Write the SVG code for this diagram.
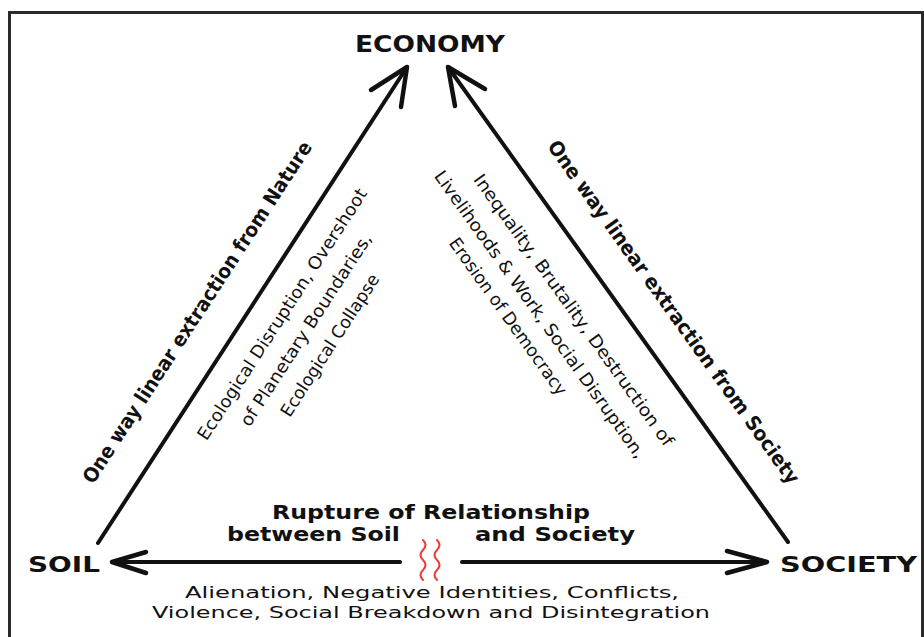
<svg xmlns="http://www.w3.org/2000/svg" width="924" height="637" viewBox="0 0 924 637">
  <style>
    .node { font-family: "DejaVu Sans", sans-serif; font-weight: bold; fill: #111; }
    .outer { font-family: "DejaVu Sans", sans-serif; font-weight: bold; font-size: 20px; fill: #111; }
    .inner { font-family: "DejaVu Sans", sans-serif; font-size: 17.5px; fill: #111; }
    .bold { font-family: "DejaVu Sans", sans-serif; font-weight: bold; font-size: 19px; fill: #111; }
    .plain { font-family: "DejaVu Sans", sans-serif; font-size: 16px; fill: #111; }
    .line { fill: none; stroke: #111; stroke-width: 4; stroke-linecap: round; stroke-linejoin: round; }
    .head { fill: none; stroke: #111; stroke-width: 4.5; stroke-linecap: round; stroke-linejoin: round; }
    .squig { fill: none; stroke: #ef3b3b; stroke-width: 2; stroke-linecap: round; }
  </style>
  <rect width="924" height="637" fill="#ffffff"/>
  <path d="M9.5 660 V12.5 H922.5 V660" fill="none" stroke="#2a2a2a" stroke-width="3"/>

  <g id="connectors">
    <g id="soil-to-economy">
      <path class="line" d="M98 543 L407 67"/>
      <path class="head" d="M371 90 L407 67 L401 107"/>
    </g>
    <g id="society-to-economy">
      <path class="line" d="M788 542 L448 67"/>
      <path class="head" d="M485 89 L448 67 L455 106"/>
    </g>
    <g id="rupture-to-soil">
      <path class="line" d="M400 562 L114 562"/>
      <path class="head" d="M146 552 L112 562 L146 573"/>
    </g>
    <g id="rupture-to-society">
      <path class="line" d="M462 562 L765 562"/>
      <path class="head" d="M727 551 L767 562 L727 573"/>
    </g>
  </g>

  <g id="economy">
    <text class="node" x="430" y="52" font-size="23" text-anchor="middle" textLength="150" lengthAdjust="spacingAndGlyphs">ECONOMY</text>
  </g>
  <g id="soil">
    <text class="node" x="28" y="572" font-size="21" textLength="72" lengthAdjust="spacingAndGlyphs">SOIL</text>
  </g>
  <g id="society">
    <text class="node" x="780" y="572" font-size="21" textLength="137" lengthAdjust="spacingAndGlyphs">SOCIETY</text>
  </g>

  <g id="label-nature">
    <text class="outer" transform="translate(203,316) rotate(-57)" text-anchor="middle" textLength="403" lengthAdjust="spacingAndGlyphs">One way linear extraction from Nature</text>
  </g>
  <g id="label-society">
    <text class="outer" transform="translate(668,316) rotate(54.4)" text-anchor="middle" textLength="417" lengthAdjust="spacingAndGlyphs">One way linear extraction from Society</text>
  </g>

  <g id="label-ecological" transform="translate(311,333) rotate(-57)">
    <text class="inner" x="0" y="-28.5" text-anchor="middle" textLength="296" lengthAdjust="spacingAndGlyphs">Ecological Disruption, Overshoot</text>
    <text class="inner" x="0" y="0" text-anchor="middle" textLength="226" lengthAdjust="spacingAndGlyphs">of Planetary Boundaries,</text>
    <text class="inner" x="0" y="28.5" text-anchor="middle" textLength="166" lengthAdjust="spacingAndGlyphs">Ecological Collapse</text>
  </g>

  <g id="label-social" transform="translate(535,318) rotate(54.4)">
    <text class="inner" x="16" y="-30" text-anchor="middle" textLength="330" lengthAdjust="spacingAndGlyphs">Inequality, Brutality, Destruction of</text>
    <text class="inner" x="0" y="0" text-anchor="middle" textLength="349" lengthAdjust="spacingAndGlyphs">Livelihoods &amp; Work, Social Disruption,</text>
    <text class="inner" x="-17" y="27" text-anchor="middle" textLength="189" lengthAdjust="spacingAndGlyphs">Erosion of Democracy</text>
  </g>

  <g id="rupture">
    <text class="bold" x="431" y="519" text-anchor="middle" textLength="318" lengthAdjust="spacingAndGlyphs">Rupture of Relationship</text>
    <text class="bold" x="227" y="541" textLength="173" lengthAdjust="spacingAndGlyphs">between Soil</text>
    <text class="bold" x="475" y="541" textLength="160" lengthAdjust="spacingAndGlyphs">and Society</text>
    <path class="squig" d="M423 540 q5 5 0 10 t0 10 t0 10 t0 10"/>
    <path class="squig" d="M437 540 q5 5 0 10 t0 10 t0 10 t0 10"/>
  </g>

  <g id="consequences">
    <text class="plain" x="185" y="598" textLength="494" lengthAdjust="spacingAndGlyphs">Alienation, Negative Identities, Conflicts,</text>
    <text class="plain" x="152" y="618" textLength="558" lengthAdjust="spacingAndGlyphs">Violence, Social Breakdown and Disintegration</text>
  </g>
</svg>
